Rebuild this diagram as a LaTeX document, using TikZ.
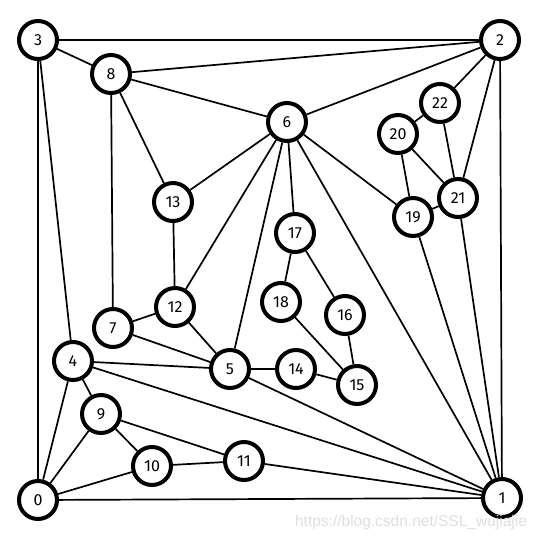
\documentclass[tikz,border=0pt]{standalone}
\usepackage{fontspec}
\setmainfont{Fira Sans}
\newfontfamily\wmfont{Liberation Sans}
\usetikzlibrary{positioning}
\tikzset{
  vtx/.style={draw, circle, line width=4pt, fill=white, minimum size=38pt,
              inner sep=0pt, font=\fontsize{16}{17}\selectfont},
  edg/.style={line width=1.7pt},
  wmark/.style={font=\wmfont\fontsize{15.5}{16}\selectfont, text=black!13, inner sep=0pt},
}
\begin{document}
\begin{tikzpicture}[x=1pt,y=-1pt]
    \useasboundingbox (0,0) rectangle (541,541);
    \node[vtx] (v0) at (38,500) {0};
    \node[vtx] (v1) at (502,498) {1};
    \node[vtx] (v2) at (500,40) {2};
    \node[vtx] (v3) at (38,40) {3};
    \node[vtx] (v4) at (73,361) {4};
    \node[vtx] (v5) at (230,369) {5};
    \node[vtx] (v6) at (287,122) {6};
    \node[vtx] (v7) at (113,328) {7};
    \node[vtx] (v8) at (111,74) {8};
    \node[vtx] (v9) at (101,414) {9};
    \node[vtx] (v10) at (152,466) {10};
    \node[vtx] (v11) at (244,461) {11};
    \node[vtx] (v12) at (175,307) {12};
    \node[vtx] (v13) at (173,202) {13};
    \node[vtx] (v14) at (296,369) {14};
    \node[vtx] (v15) at (357,385) {15};
    \node[vtx] (v16) at (345,315) {16};
    \node[vtx] (v17) at (295,233) {17};
    \node[vtx] (v18) at (281,302) {18};
    \node[vtx] (v19) at (413,217) {19};
    \node[vtx] (v20) at (398,134) {20};
    \node[vtx] (v21) at (458,198) {21};
    \node[vtx] (v22) at (440,103) {22};
    % edges
    \foreach \a/\b in {3/2,3/0,3/8,3/4,0/1,1/2,8/2,6/2,22/2,21/2,
                       0/4,0/9,0/10,8/6,8/13,8/7,6/13,6/12,6/5,6/17,6/19,6/1,
                       4/9,4/5,4/1,5/7,5/12,5/14,5/1,7/12,12/13,9/10,9/11,
                       10/11,11/1,14/15,15/16,15/18,17/18,17/16,19/20,19/1,
                       19/21,20/22,20/21,21/22,21/1}
      \draw[edg] (v\a) -- (v\b);
    \node[wmark] (wm) at (411,522) {https://blog.csdn.net/SSL\_wujiajie};
\end{tikzpicture}
\end{document}
